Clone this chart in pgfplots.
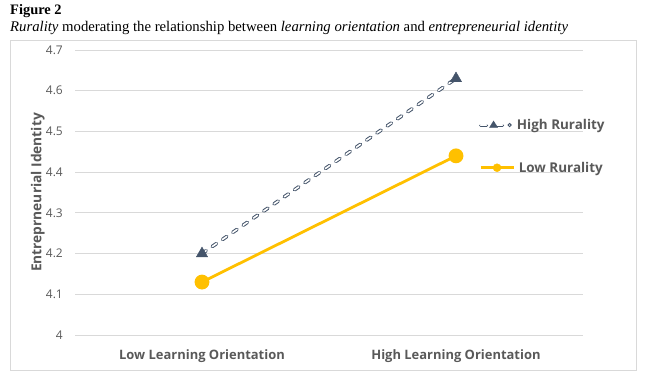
\documentclass[border=0pt]{standalone}
\usepackage{pgfplots}
\pgfplotsset{compat=1.18}
\usepackage{fontspec}
\setmainfont{Open Sans}
\newfontfamily\serif{Liberation Serif}
\definecolor{hiblue}{HTML}{44546A}
\definecolor{lowgold}{HTML}{FFC000}
\definecolor{txtgray}{HTML}{595959}
\definecolor{gridgray}{HTML}{D9D9D9}
\begin{document}
\begin{tikzpicture}
\useasboundingbox (-75bp,-48bp) rectangle (572bp,335bp);
\draw[gridgray, line width=0.8bp] (-65bp,-35bp) rectangle (561bp,295bp);
\node[anchor=base west, inner sep=0, font=\serif\bfseries\fontsize{14.5}{16}\selectfont] at (-65bp,320bp) {Figure 2};
\node[anchor=base west, inner sep=0, font=\serif\fontsize{14.8}{16}\selectfont] at (-65bp,303bp) {\textit{Rurality} moderating the relationship between \textit{learning orientation} and \textit{entrepreneurial identity}};
\begin{axis}[
  at={(0,0)}, anchor=south west,
  scale only axis, width=508bp, height=285bp,
  xmin=-0.5, xmax=1.5, ymin=4, ymax=4.7,
  xtick={0,1}, xticklabels={Low Learning Orientation, High Learning Orientation},
  ytick={4,4.1,4.2,4.3,4.4,4.5,4.6,4.7},
  yticklabels={4,4.1,4.2,4.3,4.4,4.5,4.6,4.7},
  axis line style={draw=none},
  major tick length=0pt,
  ymajorgrids, grid style={gridgray, line width=0.8bp},
  xticklabel style={font=\bfseries\fontsize{13}{15}\selectfont, text=txtgray, anchor=base, inner sep=0pt, yshift=-24bp},
  yticklabel style={font=\fontsize{12}{14}\selectfont, text=txtgray, anchor=east, inner sep=0pt, xshift=-12bp},
  ylabel={Entreprneurial Identity},
  ylabel style={font=\bfseries\fontsize{13.8}{15}\selectfont, text=txtgray, at={(axis description cs:-0.073,0.5)}, anchor=center},
  legend style={at={(rel axis cs:0.795,0.765)}, anchor=north west, draw=none, fill=none, font=\bfseries\fontsize{13.5}{15}\selectfont, text=txtgray, row sep=27bp, inner sep=0pt},
  clip=false,
]
% High Rurality: outlined dashes
\addplot[hiblue, line width=3.6bp, line cap=round, dash pattern=on 5bp off 7.5bp, forget plot] coordinates {(0,4.2) (1,4.63)};
\addplot[white, line width=1.6bp, line cap=round, dash pattern=on 5bp off 7.5bp, forget plot] coordinates {(0,4.2) (1,4.63)};
\addplot[only marks, mark=triangle*, mark size=6.5bp, mark options={fill=hiblue, draw=hiblue}, forget plot] coordinates {(0,4.2) (1,4.63)};
% Low Rurality
\addplot[lowgold, line width=2.8bp, mark=*, mark size=6bp, mark options={fill=lowgold, draw=lowgold}, forget plot] coordinates {(0,4.13) (1,4.44)};
\addlegendimage{legend image code/.code={
  \draw[hiblue, line width=3bp, line cap=round] (0bp,0bp) -- (6bp,0bp);
  \draw[white, line width=1.3bp, line cap=round] (0bp,0bp) -- (6bp,0bp);
  \draw[hiblue, line width=3bp, line cap=round] (16bp,0bp) -- (22bp,0bp);
  \draw[white, line width=1.3bp, line cap=round] (16bp,0bp) -- (22bp,0bp);
  \fill[hiblue] (13bp,4bp) -- (9bp,-2.5bp) -- (17bp,-2.5bp) -- cycle;
  \draw[hiblue, line width=0.9bp] (29bp,0bp) circle (1.6bp);
}}
\addlegendentry{High Rurality}
\addlegendimage{legend image code/.code={
  \draw[lowgold, line width=2.8bp] (0bp,0bp) -- (33bp,0bp);
  \fill[lowgold] (16.5bp,0bp) circle (4bp);
}}
\addlegendentry{Low Rurality}
\end{axis}
\end{tikzpicture}
\end{document}
